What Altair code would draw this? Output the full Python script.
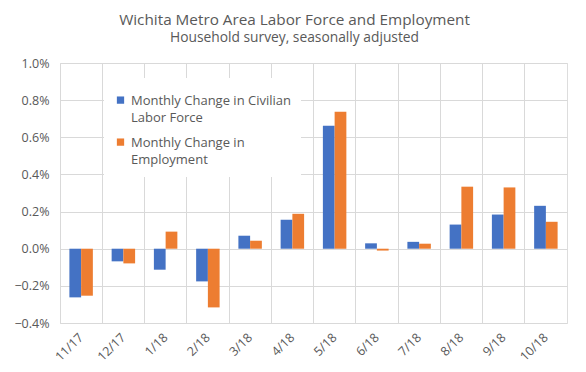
import altair as alt
import pandas as pd

months = ["11/17", "12/17", "1/18", "2/18", "3/18", "4/18", "5/18", "6/18", "7/18", "8/18", "9/18", "10/18"]
labor_force = [-0.262, -0.068, -0.113, -0.176, 0.070, 0.156, 0.662, 0.029, 0.037, 0.130, 0.184, 0.231]
employment = [-0.253, -0.079, 0.092, -0.316, 0.043, 0.188, 0.738, -0.010, 0.027, 0.334, 0.330, 0.145]
series = ["Monthly Change in Civilian Labor Force", "Monthly Change in Employment"]
colors = ["#4472C4", "#ED7D31"]

rows = []
for i, m in enumerate(months):
    rows.append({"month": m, "series": series[0], "value": labor_force[i] / 100})
    rows.append({"month": m, "series": series[1], "value": employment[i] / 100})
df = pd.DataFrame(rows)

FONT = "Open Sans"
GREY = "#595959"
GRID = "#D9D9D9"

chart = alt.Chart(df).mark_bar().encode(
    x=alt.X("month:N", sort=months, title=None,
            scale=alt.Scale(paddingInner=0, paddingOuter=0),
            axis=alt.Axis(labelAngle=-45, labelAlign="right", labelBaseline="middle",
                          labelPadding=12, ticks=False, domain=False,
                          grid=True, bandPosition=0, gridColor=GRID,
                          labelFont=FONT, labelFontSize=12.5, labelColor=GREY)),
    xOffset=alt.XOffset("series:N", sort=series,
                        scale=alt.Scale(paddingInner=0, paddingOuter=0.8)),
    y=alt.Y("value:Q", title=None,
            scale=alt.Scale(domain=[-0.004, 0.01], nice=False),
            axis=alt.Axis(format=".1%", values=[-0.004, -0.002, 0, 0.002, 0.004, 0.006, 0.008, 0.01],
                          ticks=False, domain=False, gridColor=GRID, labelPadding=11,
                          labelFont=FONT, labelFontSize=12.5, labelColor=GREY)),
    color=alt.Color("series:N", sort=series,
                    scale=alt.Scale(domain=series, range=colors),
                    legend=alt.Legend(
                        title=None, orient="none", legendX=44, legendY=15,
                        symbolType="M-1,0.54H1V2.54H-1Z", symbolSize=53, symbolStrokeWidth=0,
                        labelFont=FONT, labelFontSize=13, labelColor=GREY,
                        labelExpr="datum.label == 'Monthly Change in Civilian Labor Force' ? ['Monthly Change in Civilian', 'Labor Force'] : ['Monthly Change in', 'Employment']",
                        labelBaseline="top", labelOffset=4, labelLimit=300,
                        rowPadding=5, fillColor="white", padding=10)),
).properties(
    width=507, height=260,
    padding={"left": 52, "top": 55, "right": 11, "bottom": 41},
    autosize=alt.AutoSizeParams(type="none"),
    title=alt.TitleParams(
        "Wichita Metro Area Labor Force and Employment",
        subtitle="Household survey, seasonally adjusted",
        anchor="middle", dx=-19, offset=12,
        font=FONT, fontSize=15.3, fontWeight="normal", color=GREY,
        subtitleFont=FONT, subtitleFontSize=13.8, subtitleColor=GREY, subtitlePadding=3),
).configure_view(stroke=GRID).configure(
    background="white",
    style={"guide-label": {"lineHeight": 17}},
)

chart.save("out.html", embed_options={"renderer": "svg", "actions": False})
